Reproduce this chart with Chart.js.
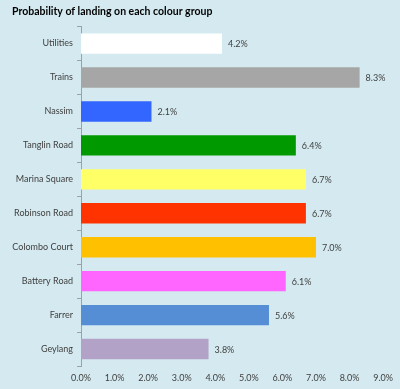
<!DOCTYPE html>
<html>
<head>
<meta charset="utf-8">
<script src="https://cdn.jsdelivr.net/npm/chart.js@4/dist/chart.umd.min.js"></script>
<style>
  html, body { margin: 0; padding: 0; background: #d5eaf0; }
  #wrap { width: 400px; height: 389px; }
</style>
</head>
<body>
<div id="wrap"><canvas id="chart"></canvas></div>
<script>
// --- data ---
const groups = ['Utilities', 'Trains', 'Nassim', 'Tanglin Road', 'Marina Square',
                'Robinson Road', 'Colombo Court', 'Battery Road', 'Farrer', 'Geylang'];
const probability = [4.2, 8.3, 2.1, 6.4, 6.7, 6.7, 7.0, 6.1, 5.6, 3.8];
const groupColours = ['#ffffff', '#a6a6a6', '#3366ff', '#009900', '#ffff66',
                      '#ff3300', '#ffc000', '#ff66ff', '#558ed5', '#b3a2c7'];
const xTicks = [0, 1, 2, 3, 4, 5, 6, 7, 8, 9];

const FONT = 'Lato, "Open Sans", sans-serif';
const TEXT = '#404040';

// value labels at the end of each bar
const barLabels = {
    id: 'barLabels',
    afterDatasetsDraw(chart) {
        const ctx = chart.ctx;
        const meta = chart.getDatasetMeta(0);
        ctx.save();
        ctx.font = '9px ' + FONT;
        ctx.fillStyle = TEXT;
        ctx.textBaseline = 'middle';
        ctx.textAlign = 'left';
        meta.data.forEach((bar, i) => {
            ctx.fillText(probability[i].toFixed(1) + '%', bar.x + 6, bar.y + 1);
        });
        ctx.restore();
    }
};

new Chart(document.getElementById('chart'), {
    type: 'bar',
    data: {
        labels: groups,
        datasets: [{
            data: probability,
            backgroundColor: groupColours,
            borderWidth: 0,
            barPercentage: 0.6,
            categoryPercentage: 1.0
        }]
    },
    options: {
        indexAxis: 'y',
        responsive: true,
        maintainAspectRatio: false,
        animation: false,
        layout: { padding: { left: 12, right: 12, top: 5, bottom: 0 } },
        plugins: {
            legend: { display: false },
            tooltip: { enabled: false },
            title: {
                display: true,
                text: 'Probability of landing on each colour group',
                align: 'start',
                color: '#000000',
                font: { family: FONT, size: 10.5, weight: 'bold' },
                padding: { top: 0, bottom: 9 }
            }
        },
        scales: {
            x: {
                min: 0,
                max: 9,
                afterBuildTicks: (axis) => { axis.ticks = xTicks.map(v => ({ value: v })); },
                afterFit: (axis) => { axis.height = 23; },
                grid: { display: false, drawTicks: false },
                border: { display: false },
                ticks: {
                    color: TEXT,
                    font: { family: FONT, size: 9 },
                    padding: 7,
                    maxRotation: 0,
                    callback: (v) => Number(v).toFixed(1) + '%'
                }
            },
            y: {
                afterFit: (axis) => { axis.width = 69; },
                grid: {
                    offset: true,
                    drawOnChartArea: false,
                    drawTicks: true,
                    tickLength: 4,
                    color: '#a0a0a0'
                },
                border: { display: true, color: '#a0a0a0', width: 1 },
                ticks: {
                    color: TEXT,
                    font: { family: FONT, size: 9 },
                    padding: 4
                }
            }
        }
    },
    plugins: [barLabels]
});
</script>
</body>
</html>
